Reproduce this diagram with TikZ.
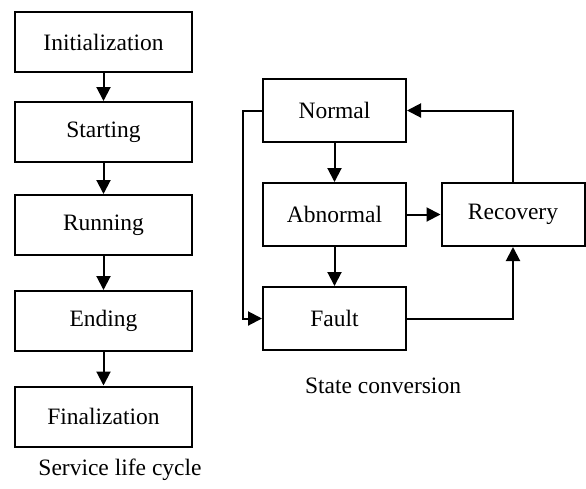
\documentclass[tikz,border=0pt]{standalone}
\usepackage{fontspec}
\setmainfont{Liberation Serif}
\usetikzlibrary{arrows.meta}
\begin{document}
\begin{tikzpicture}[x=1pt,y=-1pt,
  box/.style={draw,line width=2pt,minimum width=177pt,minimum height=60pt,inner sep=0pt,font=\fontsize{23.5}{26}\selectfont},
  sbox/.style={box,minimum width=143pt,minimum height=63pt},
  caption/.style={font=\fontsize{23.5}{26}\selectfont,inner sep=0pt},
  link/.style={line width=2pt,-{Triangle[length=14pt,width=14pt]}}]
\useasboundingbox (0,0) rectangle (586,488);
% service life cycle column
\node[box] (init) at (103.5,42) {Initialization};
\node[box] (start) at (103.5,132) {Starting};
\node[box] (run) at (103.5,225) {Running};
\node[box] (end) at (103.5,321) {Ending};
\node[box] (fin) at (103.5,416.5) {Finalization};
\node[caption] (cap1) at (120,470) {Service life cycle};
\draw[link] (init) -- (start);
\draw[link] (start) -- (run);
\draw[link] (run) -- (end);
\draw[link] (end) -- (fin);
% state conversion
\node[sbox] (normal) at (334.5,110.5) {Normal};
\node[sbox] (abn) at (334.5,214.5) {Abnormal};
\node[sbox] (fault) at (334.5,318.5) {Fault};
\node[sbox] (rec) at (513,214.5) {Recovery};
\node[caption] (cap2) at (383,386) {State conversion};
\draw[link] (normal) -- (abn);
\draw[link] (abn) -- (fault);
\draw[link] (abn) -- (rec);
\draw[link] (rec.north) |- (normal.east);
\draw[link] (fault.east) -| (rec.south);
\coordinate (loopx) at (243,0);
\draw[link] (normal.west) -| (loopx |- fault.west) -- (fault.west);
\end{tikzpicture}
\end{document}
